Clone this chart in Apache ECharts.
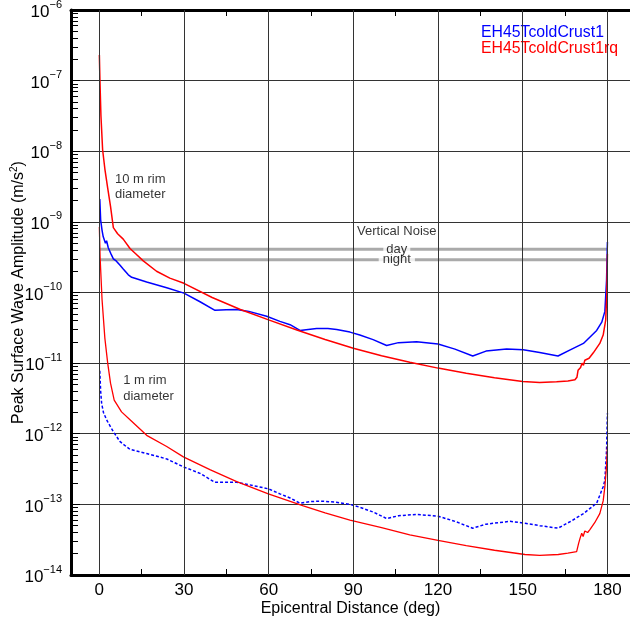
<!DOCTYPE html>
<html><head><meta charset="utf-8">
<script src="https://cdn.jsdelivr.net/npm/echarts@6/dist/echarts.min.js"></script>
<style>html,body{margin:0;padding:0;background:#fff}#c{width:630px;height:620px}</style>
</head><body><div id="c"></div>
<script>
// ---- axis ticks ----
const xTickLabels = [0, 30, 60, 90, 120, 150, 180];
const xAllTicks = [0, 15, 30, 45, 60, 75, 90, 105, 120, 135, 150, 165, 180];
const yDecades = [-14, -13, -12, -11, -10, -9, -8, -7, -6];
const yMinorMultipliers = [2, 3, 4, 5, 6, 7, 8, 9];

// ---- noise levels ----
const noiseDay = 4.1e-10;
const noiseNight = 2.9e-10;

// ---- 10 m rim diameter, EH45TcoldCrust1 (blue solid) ----
const blueHi = [
  [0.2,2.1e-9],[0.5,1.07e-9],[1.0,7.6e-10],[1.4,6.2e-10],[2.2,5.0e-10],[2.6,5.4e-10],
  [3.2,4.3e-10],[3.6,4.5e-10],[4.2,3.5e-10],[5.0,3.0e-10],[6.0,2.8e-10],[7.3,2.45e-10],
  [8.5,2.15e-10],[10.3,1.78e-10],[11.5,1.64e-10],[16.8,1.41e-10],[23.9,1.17e-10],
  [30,9.8e-11],[35.7,7.4e-11],[41,5.6e-11],[45,5.7e-11],[48.7,5.75e-11],[53,5.4e-11],
  [59.3,4.6e-11],[64,3.9e-11],[67.6,3.5e-11],[71.1,2.9e-11],[74,3.0e-11],[77,3.1e-11],
  [81,3.1e-11],[84.1,3.0e-11],[88.8,2.75e-11],[92.3,2.5e-11],[97,2.15e-11],[101.8,1.78e-11],
  [106,1.95e-11],[112.4,2.0e-11],[120,1.86e-11],[126,1.58e-11],[132.3,1.26e-11],
  [137,1.48e-11],[144.3,1.58e-11],[150.2,1.55e-11],[156,1.41e-11],[162.5,1.26e-11],
  [167,1.55e-11],[171.5,1.9e-11],[176.2,2.9e-11],[178,3.8e-11],[179.1,5.4e-11],
  [179.7,1.5e-10],[180,5.2e-10]
];
// ---- 10 m rim diameter, EH45TcoldCrust1rq (red solid) ----
const redHi = [
  [0.05,2.3e-7],[0.25,1.0e-7],[0.6,3.2e-8],[1.2,1.05e-8],[2.0,5.6e-9],[3.0,3.0e-9],
  [4.0,1.66e-9],[5.0,8.3e-10],[6.5,6.8e-10],[8.5,5.7e-10],[10.9,4.2e-10],[13,3.5e-10],
  [15.6,2.8e-10],[20.3,2.0e-10],[25,1.6e-10],[30,1.35e-10],[40,8.5e-11],[50,5.75e-11],
  [60,4.1e-11],[70,2.95e-11],[80,2.16e-11],[90,1.62e-11],[100,1.27e-11],[110,1.03e-11],
  [120,8.5e-12],[130,7.2e-12],[140,6.2e-12],[150,5.5e-12],[156,5.3e-12],[162,5.45e-12],
  [166,5.6e-12],[168.5,5.8e-12],[169.2,6.3e-12],[169.6,7.9e-12],[170.5,8.7e-12],
  [171,1.0e-11],[171.5,9.3e-12],[172,1.1e-11],[172.5,1.05e-11],[173.5,1.17e-11],
  [175,1.4e-11],[177.3,1.9e-11],[178.5,2.5e-11],[179.4,4.1e-11],[179.8,1.0e-10],[180,3.5e-10]
];
// ---- 1 m rim diameter, EH45TcoldCrust1 (blue dotted) ----
const blueLo = [
  [0.2,7.8e-12],[0.5,4.0e-12],[0.85,2.7e-12],[1.5,2.0e-12],[2.6,1.58e-12],[3.4,1.38e-12],
  [5.0,1.07e-12],[7.3,7.8e-13],[8.5,7.1e-13],[10.9,6.0e-13],[16.8,5.25e-13],[23.9,4.4e-13],
  [29.8,3.4e-13],[35.7,2.75e-13],[41,2.05e-13],[45,2.05e-13],[48.7,2.05e-13],[53,1.9e-13],
  [59.9,1.66e-13],[64,1.41e-13],[67.6,1.23e-13],[71.1,1.04e-13],[75,1.1e-13],[79.4,1.11e-13],
  [84,1.07e-13],[88.8,1.0e-13],[92.3,9.1e-14],[97,7.8e-14],[101.8,6.3e-14],[106,6.9e-14],
  [112.4,7.2e-14],[120,6.8e-14],[126,5.75e-14],[132.3,4.6e-14],[137,5.25e-14],[145.5,5.75e-14],
  [150.8,5.4e-14],[156,5.0e-14],[162.5,4.6e-14],[167,5.75e-14],[171.5,7.4e-14],[176.2,1.04e-13],
  [178.5,1.78e-13],[179.1,2.2e-13],[179.7,5.9e-13],[180,1.95e-12]
];
// ---- 1 m rim diameter, EH45TcoldCrust1rq (red) ----
const redLo = [
  [0.05,8.5e-10],[0.3,3.2e-10],[1.0,7.9e-11],[2.0,2.24e-11],[3.0,1.0e-11],[4.0,5.2e-12],
  [5.3,3.0e-12],[7.9,2.04e-12],[10.9,1.58e-12],[16.8,9.5e-13],[23.9,6.6e-13],[29.8,4.7e-13],
  [39.2,3.1e-13],[48.7,2.1e-13],[59.9,1.41e-13],[72.3,9.5e-14],[80,7.6e-14],[88.8,6.0e-14],
  [100,4.7e-14],[110,3.7e-14],[120,3.1e-14],[130,2.6e-14],[140,2.24e-14],[150.8,1.95e-14],
  [156,1.9e-14],[162.6,1.95e-14],[166,2.04e-14],[169.1,2.14e-14],[169.8,2.8e-14],
  [170.3,3.3e-14],[170.9,3.9e-14],[171.4,3.5e-14],[172,4.2e-14],[173,4.0e-14],
  [173.8,4.4e-14],[175.5,5.5e-14],[177.3,7.4e-14],[178.5,1.12e-13],[179.1,1.78e-13],
  [179.7,3.5e-13],[180,6.6e-13]
];

const X_MIN = -10, X_MAX = 188, Y_MIN = 1e-14, Y_MAX = 1e-6;
const FONT = "'Liberation Sans', Arial, Helvetica, sans-serif";
const BLUE = '#0000ff', RED = '#ff0000';

// minor tick values on the log axis
const yMinorTicks = [];
yDecades.slice(0, -1).forEach(d => yMinorMultipliers.forEach(m => yMinorTicks.push(m * Math.pow(10, d))));

const chart = echarts.init(document.getElementById('c'), null, {renderer: 'canvas'});
const supMinus = '\u2212';

const option = {
  animation: false,
  backgroundColor: '#fff',
  textStyle: {fontFamily: FONT},
  grid: {left: 71, right: 0, top: 10, bottom: 45, containLabel: false, outerBoundsMode: 'none'},
  legend: {
    orient: 'vertical', left: 476, top: 25, padding: 0, itemGap: 0,
    itemWidth: 0, itemHeight: 0, icon: 'none', selectedMode: false,
    textStyle: {fontSize: 15.8, lineHeight: 14.4, fontFamily: FONT},
    data: [
      {name: 'EH45TcoldCrust1', textStyle: {color: BLUE}},
      {name: 'EH45TcoldCrust1rq', textStyle: {color: RED}}
    ]
  },
  xAxis: [{
    type: 'value', min: X_MIN, max: X_MAX, position: 'bottom',
    name: 'Epicentral Distance (deg)', nameLocation: 'middle', nameGap: 26, nameMoveOverlap: false,
    nameTextStyle: {fontSize: 16, color: '#000', fontFamily: FONT},
    axisLine: {show: true, onZero: false, lineStyle: {color: '#000', width: 3}},
    axisTick: {show: true, inside: true, length: 6, customValues: xAllTicks, lineStyle: {color: '#000', width: 1}},
    axisLabel: {show: true, customValues: xTickLabels, fontSize: 17, color: '#000', margin: 7, fontFamily: FONT},
    splitLine: {show: false}
  }, {
    type: 'value', min: X_MIN, max: X_MAX, position: 'top',
    axisLine: {show: true, onZero: false, lineStyle: {color: '#000', width: 3}},
    axisTick: {show: true, inside: true, length: 6, customValues: xAllTicks, lineStyle: {color: '#000', width: 1}},
    axisLabel: {show: false}, splitLine: {show: false}
  }, {
    // hidden helper axis whose zero sits on the left edge of the plot
    type: 'value', min: 0, max: X_MAX - X_MIN, show: false
  }],
  yAxis: [{
    type: 'log', logBase: 10, min: Y_MIN, max: Y_MAX, interval: 1, position: 'left',
    name: 'Peak Surface Wave Amplitude (m/s{s|2})', nameLocation: 'middle', nameGap: 42, nameMoveOverlap: false,
    nameTextStyle: {fontSize: 16, color: '#000', fontFamily: FONT,
      rich: {s: {fontSize: 10, verticalAlign: 'top', lineHeight: 20, fontFamily: FONT}}},
    axisLine: {show: true, onZero: false, lineStyle: {color: '#000', width: 3}},
    axisTick: {show: true, inside: true, length: 9, lineStyle: {color: '#000', width: 1}},
    axisLabel: {
      margin: 9, color: '#000', fontFamily: FONT,
      formatter: v => {
        const e = Math.round(Math.log10(v));
        return '{b|10}{s|' + (e < 0 ? supMinus : '') + Math.abs(e) + '}';
      },
      rich: {
        b: {fontSize: 17, lineHeight: 22, verticalAlign: 'bottom', fontFamily: FONT, color: '#000'},
        s: {fontSize: 11, lineHeight: 22, verticalAlign: 'top', fontFamily: FONT, color: '#000'}
      }
    },
    splitLine: {show: true, lineStyle: {color: '#333', width: 1}}
  }, {
    // second log axis, placed on the helper axis' zero (left edge), drawing only minor ticks
    type: 'log', logBase: 10, min: Y_MIN, max: Y_MAX, position: 'left', offset: 0,
    axisLine: {show: false, onZero: true, onZeroAxisIndex: 2},
    axisTick: {show: true, inside: true, length: 7, customValues: yMinorTicks, lineStyle: {color: '#000', width: 1}},
    axisLabel: {show: false}, splitLine: {show: false}
  }],
  series: [
    { // vertical grid lines at the x tick values
      type: 'line', name: 'grid', data: [[0, 1e-10]], symbol: 'none', lineStyle: {width: 0}, silent: true, z: 1,
      markLine: {
        silent: true, symbol: ['none', 'none'], animation: false, label: {show: false},
        lineStyle: {color: '#333', width: 1, type: 'solid'},
        data: xTickLabels.map(v => ({xAxis: v}))
      }
    },
    {
      type: 'line', name: 'noiseDay', z: 2, showSymbol: false, symbol: 'none', silent: true,
      lineStyle: {color: '#aaaaaa', width: 3},
      data: [[0, noiseDay], [180, noiseDay]]
    },
    {
      type: 'line', name: 'noiseNight', z: 2, showSymbol: false, symbol: 'none', silent: true,
      lineStyle: {color: '#aaaaaa', width: 3},
      data: [[0, noiseNight], [180, noiseNight]]
    },
    {
      type: 'line', name: 'EH45TcoldCrust1', data: blueHi, z: 3, showSymbol: false, symbol: 'none',
      color: BLUE, lineStyle: {color: BLUE, width: 1.5}
    },
    {
      type: 'line', name: 'EH45TcoldCrust1', data: blueLo, z: 3, showSymbol: false, symbol: 'none',
      color: BLUE, lineStyle: {color: BLUE, width: 1.5, type: [3, 2]}
    },
    {
      type: 'line', name: 'EH45TcoldCrust1rq', data: redHi, z: 4, showSymbol: false, symbol: 'none',
      color: RED, lineStyle: {color: RED, width: 1.5}
    },
    {
      type: 'line', name: 'EH45TcoldCrust1rq', data: redLo, z: 4, showSymbol: false, symbol: 'none',
      color: RED, lineStyle: {color: RED, width: 1.3}
    },
    { // text annotations
      type: 'scatter', name: 'notes', z: 6, silent: true, symbolSize: 0,
      itemStyle: {color: 'rgba(0,0,0,0)'},
      label: {show: true, color: '#000', fontSize: 13, fontFamily: FONT},
      data: [
        {value: [5.56, 3.15e-9], label: {formatter: '10 m rim\ndiameter', position: 'right', distance: 0, align: 'left', lineHeight: 15.5}},
        {value: [8.5, 4.35e-12], label: {formatter: '1 m rim\ndiameter', position: 'right', distance: 0, align: 'left', lineHeight: 16}},
        {value: [105.4, 7.4e-10], label: {formatter: 'Vertical Noise', position: 'inside'}},
        {value: [105.4, noiseNight], label: {formatter: 'night', position: 'inside', backgroundColor: '#fff', padding: [0, 4], lineHeight: 11}},
        {value: [105.4, noiseDay], label: {formatter: 'day', position: 'inside', backgroundColor: '#fff', padding: [0, 3], lineHeight: 11}}
      ]
    }
  ]
};
chart.setOption(option);
</script>
</body></html>
